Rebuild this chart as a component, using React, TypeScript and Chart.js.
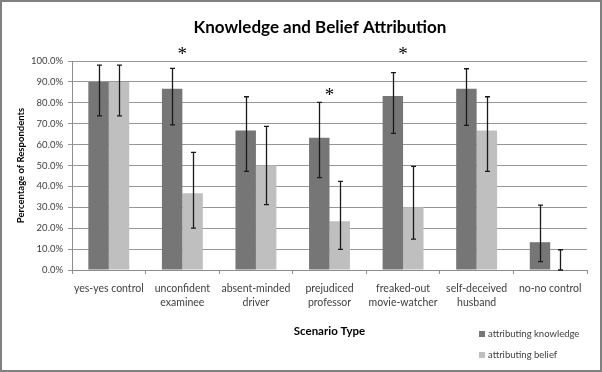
import React, { useEffect, useRef } from "react";
import { Chart, registerables } from "chart.js";

Chart.register(...registerables);

const categories: string[][] = [
  ["yes-yes control"],
  ["unconfident", "examinee"],
  ["absent-minded", "driver"],
  ["prejudiced", "professor"],
  ["freaked-out", "movie-watcher"],
  ["self-deceived", "husband"],
  ["no-no control"],
];
const knowledge = [90, 86.7, 66.7, 63.3, 83.3, 86.7, 13.3];
const knowledgeLow = [73.7, 69.4, 47.2, 44.2, 65.4, 69.2, 4];
const knowledgeHigh = [98, 96.5, 82.9, 80.2, 94.4, 96.3, 31];
const belief = [90, 36.7, 50, 23.3, 30, 66.7, 0];
const beliefLow = [73.7, 20, 31.3, 9.9, 14.8, 47.2, 0];
const beliefHigh = [98, 56.3, 68.7, 42.4, 49.6, 82.9, 9.7];
const starValues: (number | null)[] = [null, 105, null, 85, 105, null, null];
const seriesNames = ["attributing knowledge", "attributing belief"];
const chartTitle = "Knowledge and Belief Attribution";
const yTitle = "Percentage of Respondents";
const xTitle = "Scenario Type";

const DARK = "#767676";
const LIGHT = "#bfbfbf";
const FONT = "Lato";

export default function App() {
  const ref = useRef<HTMLCanvasElement>(null);

  useEffect(() => {
    document.body.style.margin = "0";
    const errorBars = {
      id: "errorBars",
      afterDatasetsDraw(chart: any) {
        const ctx = chart.ctx;
        const ys = chart.scales.y;
        const sets = [
          [knowledgeLow, knowledgeHigh],
          [beliefLow, beliefHigh],
        ];
        ctx.save();
        ctx.strokeStyle = "#1a1a1a";
        ctx.lineWidth = 1.3;
        sets.forEach(([lo, hi], di) => {
          const meta = chart.getDatasetMeta(di);
          meta.data.forEach((bar: any, i: number) => {
            const x = Math.round(bar.x) + 0.5;
            const yl = ys.getPixelForValue(lo[i]);
            const yh = ys.getPixelForValue(hi[i]);
            ctx.beginPath();
            ctx.moveTo(x, yl);
            ctx.lineTo(x, yh);
            ctx.moveTo(x - 2.5, yl);
            ctx.lineTo(x + 2.5, yl);
            ctx.moveTo(x - 2.5, yh);
            ctx.lineTo(x + 2.5, yh);
            ctx.stroke();
          });
        });
        ctx.restore();
      },
    };
    const decor = {
      id: "decor",
      afterDraw(chart: any) {
        const ctx = chart.ctx;
        const xs = chart.scales.x;
        const ys = chart.scales.y;
        ctx.save();
        // title
        ctx.fillStyle = "#000";
        ctx.font = `bold 17px ${FONT}`;
        ctx.textAlign = "center";
        ctx.textBaseline = "middle";
        ctx.fillText(chartTitle, 320, 28);
        // stars
        ctx.font = `19px "Liberation Serif"`;
        starValues.forEach((v, i) => {
          if (v == null) return;
          ctx.fillText("*", xs.getPixelForValue(i), ys.getPixelForValue(v) + 4);
        });
        // legend
        ctx.font = `9.5px ${FONT}`;
        ctx.textAlign = "left";
        const colors = [DARK, LIGHT];
        const rows = [334, 355];
        seriesNames.forEach((n, i) => {
          ctx.fillStyle = colors[i];
          ctx.fillRect(479, rows[i] - 3, 6, 6);
          ctx.fillStyle = "#404040";
          ctx.fillText(n, 488, rows[i]);
        });
        // border
        ctx.strokeStyle = "#808080";
        ctx.lineWidth = 2;
        ctx.strokeRect(1, 1, 600, 370);
        ctx.restore();
      },
    };

    const chart = new Chart(ref.current as HTMLCanvasElement, {
      type: "bar",
      data: {
        labels: categories,
        datasets: [
          { label: seriesNames[0], data: knowledge, backgroundColor: DARK },
          { label: seriesNames[1], data: belief, backgroundColor: LIGHT },
        ],
      },
      options: {
        responsive: false,
        animation: false,
        devicePixelRatio: 1,
        layout: { padding: { top: 61, left: 0, right: 15, bottom: 0 } },
        datasets: { bar: { categoryPercentage: 0.556, barPercentage: 1 } },
        plugins: {
          legend: { display: false },
          tooltip: { enabled: false },
        },
        scales: {
          x: {
            afterFit: (s: any) => {
              s.height = 102;
            },
            grid: {
              offset: true,
              drawOnChartArea: false,
              tickLength: 4,
              color: "#8c8c8c",
            },
            border: { color: "#8c8c8c" },
            ticks: {
              padding: 7,
              color: "#404040",
              font: { family: FONT, size: 10.5, lineHeight: 1.4 },
              maxRotation: 0,
              autoSkip: false,
            },
            title: {
              display: true,
              text: xTitle,
              color: "#000",
              font: { family: FONT, size: 11.5, weight: "bold" },
              padding: { top: 0, bottom: 34 },
            },
          },
          y: {
            min: 0,
            max: 100,
            afterFit: (s: any) => {
              s.width = 72;
            },
            grid: { color: "#969696", tickLength: 4 },
            border: { color: "#8c8c8c" },
            ticks: {
              stepSize: 10,
              padding: 5,
              color: "#404040",
              font: { family: FONT, size: 9.5 },
              callback: (v: any) => Number(v).toFixed(1) + "%",
            },
            title: {
              display: true,
              text: yTitle,
              color: "#000",
              font: { family: FONT, size: 9.5, weight: "bold" },
              padding: { top: 15, bottom: 0 },
            },
          },
        },
      },
      plugins: [errorBars, decor],
    } as any);
    return () => chart.destroy();
  }, []);

  return (
    <div style={{ width: 602, height: 372 }}>
      <canvas ref={ref} width={602} height={372} style={{ display: "block" }} />
    </div>
  );
}
